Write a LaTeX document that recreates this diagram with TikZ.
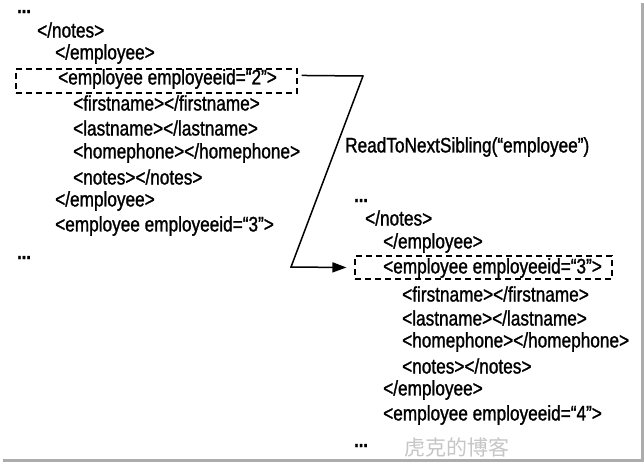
\documentclass[tikz,border=0pt]{standalone}
\usepackage{fontspec}
\setmainfont{Liberation Sans}[FakeStretch=0.82,FakeBold=1.2]
\newfontfamily\cjk{Noto Sans CJK SC}
\usetikzlibrary{arrows.meta,calc}
\begin{document}
\begin{tikzpicture}[x=1pt,y=-1pt,
  txt/.style={anchor=west,inner sep=0pt,font=\fontsize{21}{23}\selectfont},
  dots/.style={anchor=base west,inner sep=0pt,text height=5pt,text depth=0pt,font=\bfseries\fontsize{20}{22}\selectfont},
  dashbox/.style={draw,dash pattern=on 6pt off 4pt,line width=1.1pt,inner sep=0pt},
  conn/.style={line width=1.5pt,line join=miter},
  shadow/.style={gray!65,line width=3pt}]
\useasboundingbox (0,0) rectangle (644,463);
\fill[white] (0,0) rectangle (644,463);
% shadow border
\draw[shadow] (3,460) -- (642.5,460) -- (642.5,3);
% left column
\node[dots] (l0) at (17,13) {...};
\node[txt] (l1) at (37,30) {</notes>};
\node[txt] (l2) at (55,54) {</employee>};
\node[txt] (l3) at (58,79) {<employee employeeid=“2”>};
\node[txt] (l4) at (73,103) {<firstname></firstname>};
\node[txt] (l5) at (73,128) {<lastname></lastname>};
\node[txt] (l6) at (73,153) {<homephone></homephone>};
\node[txt] (l7) at (73,177) {<notes></notes>};
\node[txt] (l8) at (55,201) {</employee>};
\node[txt] (l9) at (55,226) {<employee employeeid=“3”>};
\node[dots] (l10) at (17,259) {...};
\node[dashbox,minimum width=281pt,minimum height=24pt] (b1) at (156.5,81) {};
% right column
\node[dots] (r0) at (354,202) {...};
\node[txt] (r1) at (365,218) {</notes>};
\node[txt] (r2) at (383,243) {</employee>};
\node[txt] (r3) at (383,268) {<employee employeeid=“3”>};
\node[txt] (r4) at (402,294) {<firstname></firstname>};
\node[txt] (r5) at (402,318) {<lastname></lastname>};
\node[txt] (r6) at (402,342) {<homephone></homephone>};
\node[txt] (r7) at (402,366) {<notes></notes>};
\node[txt] (r8) at (383,390) {</employee>};
\node[txt] (r9) at (383,415) {<employee employeeid=“4”>};
\node[dots] (r10) at (354,447) {...};
\node[dashbox,minimum width=257pt,minimum height=23pt] (b2) at (483.5,267.5) {};
% label
\node[txt] (lab) at (345,147) {ReadToNextSibling(“employee”)};
% connector
\coordinate (s) at ($(b1.north east)+(4,7)$);
\coordinate (k1) at (363,76);
\coordinate (k2) at (291,267);
\coordinate (e) at ($(b2.west)+(-8,0)$);
\draw[conn,-{Triangle[length=14pt,width=10pt]}] (s) -- (k1) -- (k2) -- (e);
% watermark
\node[anchor=west,inner sep=0pt,font=\cjk\fontsize{21}{22}\selectfont,text=gray!45] (wm) at (404,447) {虎克的博客};
\end{tikzpicture}
\end{document}
